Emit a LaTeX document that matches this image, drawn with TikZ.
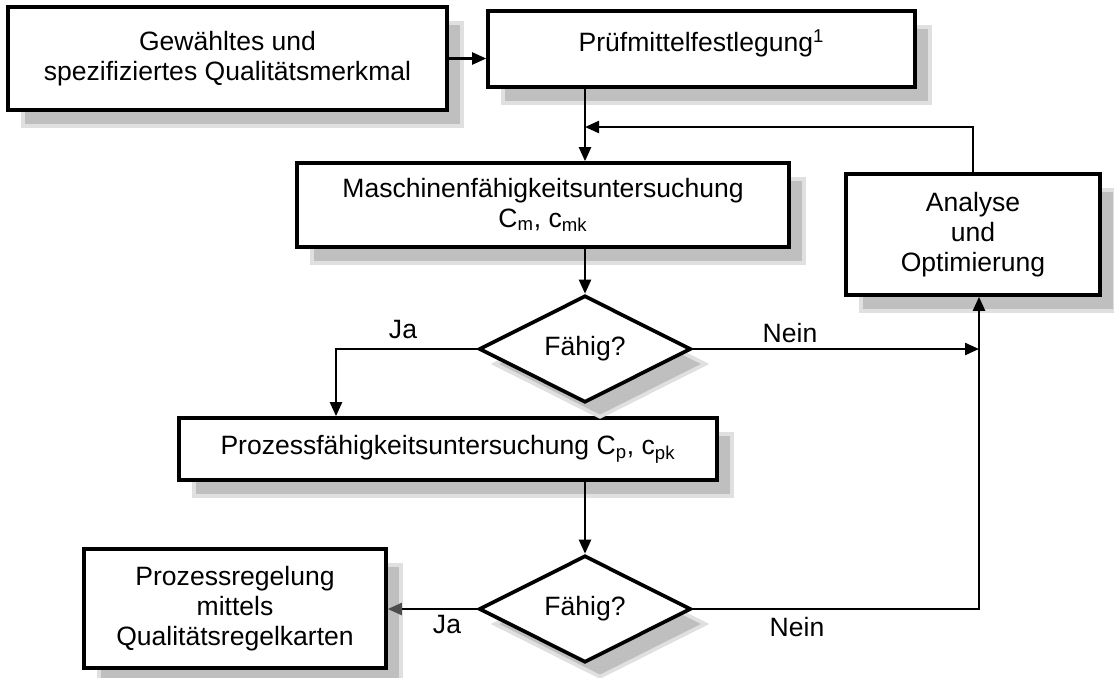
\documentclass[tikz,border=0pt]{standalone}
\usepackage{fontspec}
\setmainfont{Liberation Sans}
\usetikzlibrary{shapes.geometric, arrows.meta, shadows}

\begin{document}
\begin{tikzpicture}[
    x=0.02cm, y=-0.02cm,
    font=\fontsize{15.1pt}{17pt}\selectfont,
    box/.style={rectangle, draw, line width=2.1pt, fill=white, align=center, inner sep=0pt, drop shadow={shadow xshift=0.3cm, shadow yshift=-0.32cm, fill=black!25, draw=black!12, opacity=1}},
    decision/.style={diamond, draw, line width=2.1pt, fill=white, inner sep=0pt, minimum width=4.24cm, minimum height=2.14cm, drop shadow={shadow xshift=0.3cm, shadow yshift=-0.3cm, fill=black!25, draw=black!12, opacity=1}},
    arrow/.style={-{Triangle[length=0.28cm, width=0.24cm]}, line width=1.3pt},
    grayarrow/.style={-{Triangle[length=0.28cm, width=0.24cm, color=black!70]}, line width=1.3pt},
    lbl/.style={inner sep=0pt}
]
\useasboundingbox (0,0) rectangle (1114,677);

% Boxes
\node[box, minimum width=8.78cm, minimum height=2.06cm] (merkmal) at (227.5,58.5) {Gewähltes und\\spezifiziertes Qualitätsmerkmal};
\node[box, minimum width=8.54cm, minimum height=1.52cm, text depth=0.35cm] (pruef) at (701.5,49) {Prüfmittelfestlegung\textsuperscript{1}};
\node[box, minimum width=9.84cm, minimum height=1.68cm] (maschine) at (543,205) {Maschinenfähigkeitsuntersuchung\\C\textsubscript{m}, c\textsubscript{mk}};
\node[box, minimum width=5.08cm, minimum height=2.42cm] (analyse) at (973,234.5) {Analyse\\und\\Optimierung};
\node[box, minimum width=10.76cm, minimum height=1.24cm] (prozess) at (448,449) {Prozessfähigkeitsuntersuchung C\textsubscript{p}, c\textsubscript{pk}};
\node[box, minimum width=6.04cm, minimum height=2.38cm] (regel) at (235,608.5) {Prozessregelung\\mittels\\Qualitätsregelkarten};

% Decisions
\node[decision] (dia1) at (585,349) {Fähig?};
\node[decision] (dia2) at (585,609) {Fähig?};

% Labels
\node[lbl] (ja1) at (403,329) {Ja};
\node[lbl] (nein1) at (790,333) {Nein};
\node[lbl] (ja2) at (447,624) {Ja};
\node[lbl] (nein2) at (797,627) {Nein};

% Bends
\coordinate (rueck) at (585,127);
\coordinate (jaknick) at (336,349);
\coordinate (neinknick) at (979,609);

% Arrows
\draw[arrow] (merkmal.east) -- (merkmal.east -| pruef.west);
\draw[arrow] (pruef.south -| dia1) -- (maschine.north -| dia1);
\draw[arrow] (analyse.north) |- (rueck);
\draw[arrow] (maschine.south -| dia1) -- (dia1.north);
\draw[arrow] (dia1.west) -- (jaknick) -- (jaknick |- prozess.north);
\draw[arrow] (dia1.east) -- (dia1.east -| neinknick);
\draw[arrow] (prozess.south -| dia2) -- (dia2.north);
\draw[grayarrow] (dia2.west) -- (dia2.west -| regel.east);
\draw[arrow] (dia2.east) -- (neinknick) -- (neinknick |- analyse.south);

\end{tikzpicture}
\end{document}
